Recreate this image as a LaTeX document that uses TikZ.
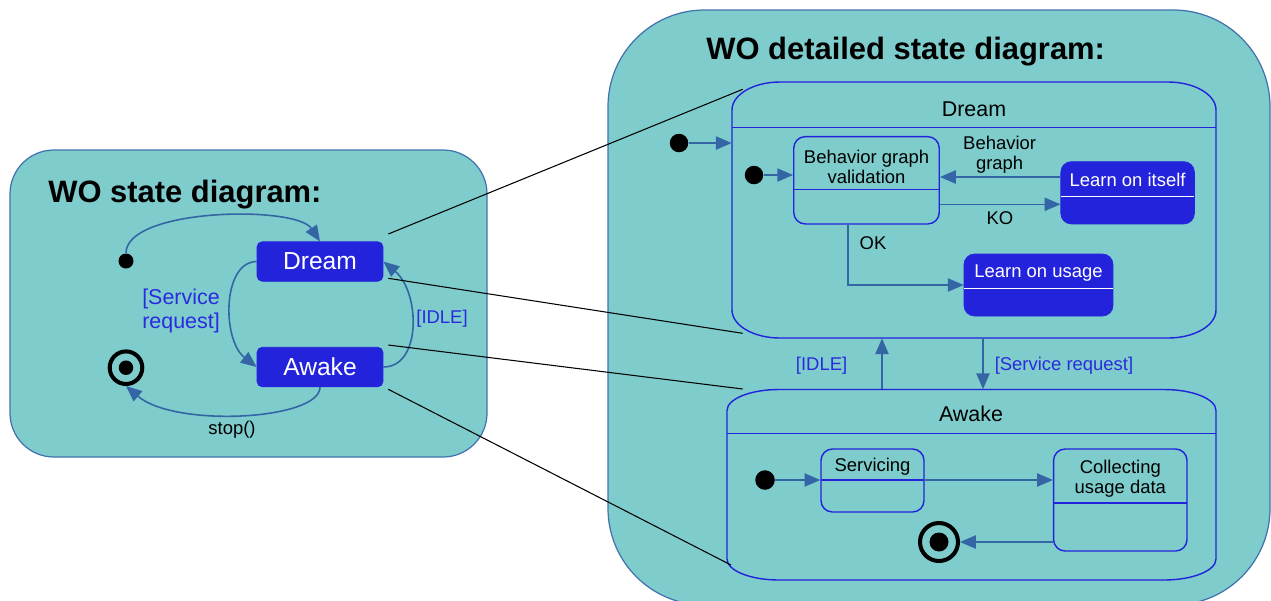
\documentclass[tikz,border=0pt]{standalone}
\usepackage{fontspec}
\setmainfont{Liberation Sans}
\usetikzlibrary{arrows.meta}
\definecolor{bgteal}{HTML}{7ECCCC}
\definecolor{panelline}{HTML}{4272AE}
\definecolor{stblue}{HTML}{2323DC}
\definecolor{arrowc}{HTML}{3465A4}
\definecolor{lblue}{HTML}{2B2BDD}
% elliptic-cornered rectangle: [style]{x1}{y1}{x2}{y2}{rx}{ry}
\newcommand{\erect}[7][]{%
  \draw[#1] ({#2+#6},#3) -- ({#4-#6},#3)
    arc[start angle=-90,end angle=0,x radius=#6,y radius=#7]
    -- (#4,{#5-#7})
    arc[start angle=0,end angle=90,x radius=#6,y radius=#7]
    -- ({#2+#6},#5)
    arc[start angle=90,end angle=180,x radius=#6,y radius=#7]
    -- (#2,{#3+#7})
    arc[start angle=180,end angle=270,x radius=#6,y radius=#7] -- cycle;}
\begin{document}
\begin{tikzpicture}[x=0.02cm,y=-0.02cm,
  panel/.style={fill=bgteal, draw=panelline, line width=0.7pt},
  comp/.style={draw=stblue, line width=0.8pt},
  conn/.style={draw=arrowc, line width=0.9pt, -{Triangle[length=9pt,width=7.5pt]}},
  link/.style={draw=black, line width=0.6pt},
  sstate/.style={fill=stblue, draw=stblue, text=white, rounded corners=3pt, inner sep=0pt, font=\fontsize{14}{16}\selectfont},
  initdot/.style={circle, fill=black, inner sep=0pt},
  finring/.style={circle, draw=black, line width=2.3pt, inner sep=0pt},
  lbl/.style={inner sep=0pt, font=\fontsize{10.5}{11.5}\selectfont, align=center},
  blbl/.style={lbl, text=lblue},
  hdr/.style={inner sep=0pt, font=\fontsize{12.2}{14}\selectfont},
  titletext/.style={inner sep=0pt, font=\fontsize{17.6}{20}\selectfont\bfseries},
  substate/.style={draw=stblue, line width=0.8pt, rounded corners=6.5pt, inner sep=0pt},
  lrn/.style={fill=stblue, draw=stblue, rounded corners=6pt, inner sep=0pt},
]
\useasboundingbox (0,0) rectangle (1271,600);
% ---------- panels ----------
\begin{scope}
  \clip (0,0) rectangle (1271,600);
  \draw[panel, rounded corners=55pt] (608,10) rectangle (1270,605);
\end{scope}
\draw[panel, rounded corners=25pt] (10,150) rectangle (487,457);

% ---------- left: WO state diagram ----------
\node[titletext, anchor=base west] (t1) at (48,202) {WO state diagram:};
\node[sstate, minimum width=2.52cm, minimum height=0.79cm] (dL) at (320,261.5) {Dream};
\node[sstate, minimum width=2.52cm, minimum height=0.79cm] (aL) at (320,367) {Awake};
\node[initdot, minimum size=0.3cm] (iL) at (126,261) {};
\node[finring, minimum size=0.652cm] (fL) at (126,367.7) {};
\node[initdot, minimum size=0.29cm] (fLc) at (fL.center) {};

\draw[conn] (iL.north) .. controls (126,208) and (296,205) .. (dL.north);
\draw[conn] (dL.west) .. controls (222,262) and (222,340) .. (aL.west);
\draw[conn] (aL.east) .. controls (422,367) and (420,292) .. (dL.east);
\draw[conn] (aL.south) .. controls (320,420) and (175,428) .. (fL.south);

\node[inner sep=0pt, text=lblue, align=left, font=\fontsize{12.2}{13.6}\selectfont] (lsr) at (181,310.5) {[Service\\request]};
\node[blbl] (lidle) at (442,319) {[IDLE]};
\node[lbl] (lstop) at (232,430) {stop()};

% ---------- right: WO detailed state diagram ----------
\node[titletext, anchor=base west] (t2) at (706,59) {WO detailed state diagram:};

% Dream composite
\node[minimum width=9.68cm, minimum height=5.12cm, inner sep=0pt] (dC) at (974,210) {};
\erect[comp]{732}{82}{1216}{338}{48}{28}
\draw[comp] (732,127.3) -- (1216,127.3);
\node[hdr] (dCt) at (974,109) {Dream};

\node[initdot, minimum size=0.37cm] (i1) at (679,143) {};
\draw[conn] (i1) -- (dC.west |- i1);

\node[substate, minimum width=2.91cm, minimum height=1.746cm] (bgv) at (866.5,180.3) {};
\draw[comp] (793.8,189.3) -- (939.3,189.3);
\node[lbl] (bgvt) at (866.5,167) {Behavior graph\\validation};

\node[initdot, minimum size=0.37cm] (i2) at (754,175) {};
\draw[conn] (i2) -- (bgv.west |- i2);

\node[lrn, minimum width=2.672cm, minimum height=1.246cm] (loi) at (1127.6,192.8) {};
\draw[white, line width=0.8pt] (1061,196.7) -- (1194.2,196.7);
\node[lbl, text=white] (loit) at (1127.6,180) {Learn on itself};

\node[lrn, minimum width=2.98cm, minimum height=1.24cm] (lou) at (1038.5,285) {};
\draw[white, line width=0.8pt] (964.2,288.3) -- (1112.8,288.3);
\node[lbl, text=white] (lout) at (1038.5,273) {Learn on usage};

\coordinate (yBG) at (1000,177);
\coordinate (yKO) at (1000,204.3);
\coordinate (okx) at (848.2,224);
\draw[conn] (loi.west |- yBG) -- (bgv.east |- yBG);
\draw[conn] (bgv.east |- yKO) -- (loi.west |- yKO);
\draw[conn] (bgv.south -| okx) |- (lou.west);
\node[lbl] (lbg) at (999.6,155) {Behavior\\graph};
\node[lbl] (lko) at (1000,218) {KO};
\node[lbl] (lok) at (873,243.5) {OK};

% Awake composite
\node[minimum width=9.78cm, minimum height=3.81cm, inner sep=0pt] (aC) at (971.5,484.75) {};
\erect[comp]{727}{389.5}{1216}{580}{52}{21}
\draw[comp] (727,433.3) -- (1216,433.3);
\node[hdr] (aCt) at (971,414) {Awake};

\node[initdot, minimum size=0.39cm] (i3) at (765,480) {};
\node[substate, minimum width=2.06cm, minimum height=1.26cm] (serv) at (872.5,480.5) {};
\draw[comp] (821,480) -- (924,480);
\node[lbl] (servt) at (872.5,467) {Servicing};
\node[substate, minimum width=2.668cm, minimum height=2.04cm] (coll) at (1120.3,500) {};
\draw[comp] (1053.6,503) -- (1187,503);
\node[lbl] (collt) at (1120.3,479) {Collecting\\usage data};
\node[finring, minimum size=0.76cm] (fR) at (939,542) {};
\node[initdot, minimum size=0.38cm] (fRc) at (fR.center) {};

\draw[conn] (i3) -- (serv.west |- i3);
\draw[conn] (serv.east |- i3) -- (coll.west |- i3);
\draw[conn] (coll.west |- fR) -- (fR.east);

% transitions between composites
\coordinate (ix) at (882,360);
\coordinate (sx) at (983,360);
\draw[conn] (aC.north -| ix) -- (dC.south -| ix);
\draw[conn] (dC.south -| sx) -- (aC.north -| sx);
\node[blbl] (ridle) at (821.6,365.5) {[IDLE]};
\node[blbl] (rsr) at (1064,365.5) {[Service request]};

% ---------- links between the two views ----------
\coordinate (l1a) at (388.3,234);   \coordinate (l1b) at (742.7,89.3);
\coordinate (l2a) at (388.3,278.3); \coordinate (l2b) at (742.7,333.3);
\coordinate (l3a) at (388.3,345);   \coordinate (l3b) at (742.7,389);
\coordinate (l4a) at (388.3,389.3); \coordinate (l4b) at (731,565);
\draw[link] (l1a) -- (l1b);
\draw[link] (l2a) -- (l2b);
\draw[link] (l3a) -- (l3b);
\draw[link] (l4a) -- (l4b);
\end{tikzpicture}
\end{document}
